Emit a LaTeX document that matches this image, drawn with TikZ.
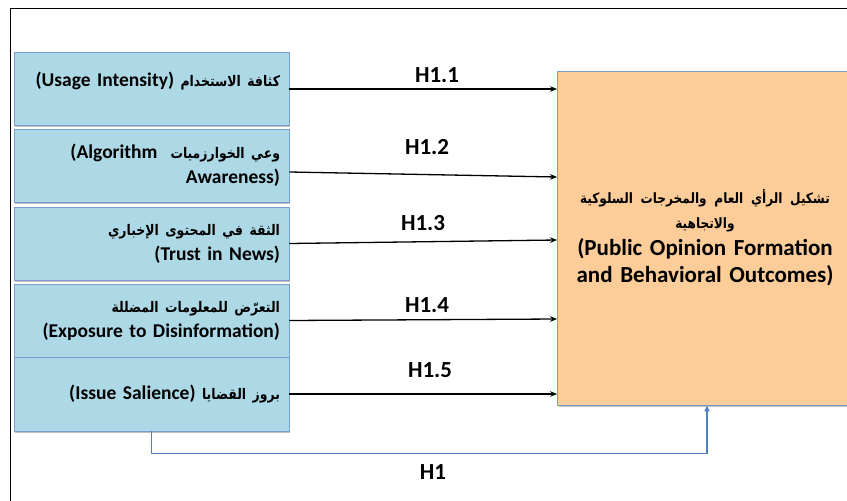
\documentclass[tikz,border=0pt]{standalone}
\usepackage{fontspec}
\setmainfont{Carlito}
\newfontfamily\arabicfont[Script=Arabic,Scale=0.75,FakeStretch=0.85]{DejaVu Sans}
\TeXXeTstate=1
\usetikzlibrary{arrows.meta,shadows}

\definecolor{varblue}{RGB}{173,216,230}
\definecolor{edgeblue}{RGB}{122,156,205}
\definecolor{peach}{RGB}{252,204,153}
\definecolor{linkblue}{RGB}{79,129,189}
\newcommand{\artxt}[1]{{\arabicfont\beginR #1\endR}}

\begin{document}
\begin{tikzpicture}[x=1pt,y=-1pt,line width=0.8pt,
    shade/.style={drop shadow={shadow xshift=1.2pt,shadow yshift=-1.6pt,opacity=.35,fill=black!70}},
    var/.style={shade,draw=edgeblue,fill=varblue,minimum width=275pt,minimum height=73pt,
      text width=257pt,align=right,inner sep=0pt,font=\bfseries\fontsize{19.5}{25}\selectfont},
    dv/.style={shade,draw=edgeblue,fill=peach,minimum width=295pt,minimum height=334pt,
      text width=280pt,align=center,inner sep=0pt,font=\bfseries\fontsize{23}{27}\selectfont},
    hyp/.style={font=\bfseries\fontsize{23}{27}\selectfont,inner sep=0pt},
    link/.style={line width=1.3pt,-{Stealth[length=7pt,width=5.5pt]}},
    total/.style={draw=linkblue,line width=1.6pt,-{Triangle[length=6pt,width=5pt]}}]
  \useasboundingbox (0,0) rectangle (847,501);
  \fill[white] (0,0) rectangle (847,501);
  \draw[line width=1pt] (10,501) -- (10,8) -- (847,8);

  % independent variables
  \node[var,text depth=19pt] (b1) at (151.5,89) {(Usage Intensity) \artxt{كثافة الاستخدام}};
  \node[var] (b2) at (151.5,165.5) {(Algorithm\ \ \artxt{وعي الخوارزميات}\\ Awareness)};
  \node[var] (b3) at (151.5,243.5) {\artxt{الثقة في المحتوى الإخباري}\\ (Trust in News)};
  \node[var] (b4) at (151.5,320.5) {\artxt{التعرّض للمعلومات المضللة}\\ (Exposure to Disinformation)};
  \node[var,minimum height=74pt] (b5) at (151.5,394) {(Issue Salience) \artxt{بروز القضايا}};

  % dependent variable
  \node[dv] (out) at (705,238) {{\fontsize{19}{25}\selectfont
    \artxt{تشكيل الرأي العام والمخرجات السلوكية}\\ \artxt{والاتجاهية}\\}
    (Public Opinion Formation\\ and Behavioral Outcomes)};

  \draw[link] (b1.east) -- ([yshift=149pt]out.west);
  \draw[link] ([yshift=-6.5pt]b2.east) -- ([yshift=61pt]out.west);
  \draw[link] (b3.east) -- ([yshift=-2pt]out.west);
  \draw[link] (b4.east) -- ([yshift=-81pt]out.west);
  \draw[link] (b5.east) -- ([yshift=-156pt]out.west);
  \draw[total] (b5.south) -- ++(0,22) -| ([xshift=2pt]out.south);

  \node[hyp] (h11) at (437,75)  {H1.1};
  \node[hyp] (h12) at (427,147) {H1.2};
  \node[hyp] (h13) at (423,223) {H1.3};
  \node[hyp] (h14) at (427,305) {H1.4};
  \node[hyp] (h15) at (430,370) {H1.5};
  \node[hyp] (h1)  at (433,472) {H1};
\end{tikzpicture}
\end{document}
